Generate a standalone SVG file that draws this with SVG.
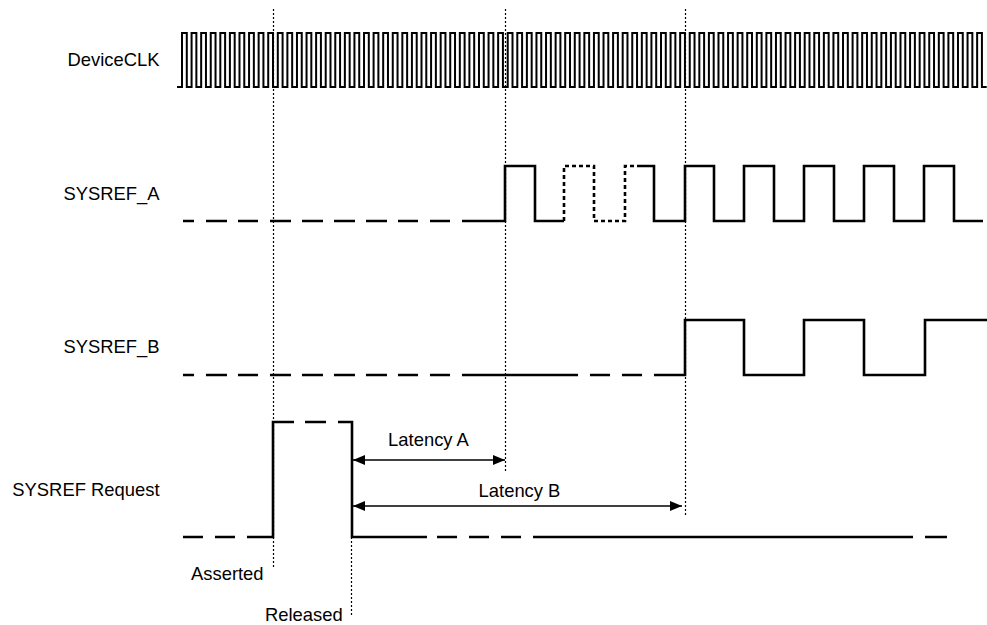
<svg xmlns="http://www.w3.org/2000/svg" width="987" height="625" viewBox="0 0 987 625">
<style>
.lbl{font-family:"Liberation Sans",Arial,sans-serif;font-size:18.4px;fill:#000}
.sig{fill:none;stroke:#000;stroke-width:2.6;stroke-linejoin:miter;stroke-linecap:butt}
.clk{fill:none;stroke:#000;stroke-width:2;stroke-linejoin:miter}
.dsh{stroke-dasharray:4 3}
.mark{fill:none;stroke:#000;stroke-width:1.2;stroke-dasharray:2 2}
.arr{fill:none;stroke:#000;stroke-width:1.4}
</style>
<defs>
<marker id="ah" viewBox="0 0 12 10" refX="12" refY="5" markerWidth="12" markerHeight="10" markerUnits="userSpaceOnUse" orient="auto-start-reverse">
<path d="M0,0 L12,5 L0,10 z" fill="#000"/>
</marker>
</defs>
<rect width="987" height="625" fill="#fff"/>

<g id="devclk">
<text class="lbl" x="159.5" y="66" text-anchor="end">DeviceCLK</text>
<path class="clk" d="M177,87 H182
V33h4.79V87h4.79V33h4.79V87h4.79V33h4.79V87h4.79V33h4.79V87h4.79V33h4.79V87h4.79V33h4.79V87h4.79V33h4.79V87h4.79V33h4.79V87h4.79V33h4.79V87h4.79V33h4.79V87h4.79V33h4.79V87h4.79V33h4.79V87h4.79
V33h4.79V87h4.79V33h4.79V87h4.79V33h4.79V87h4.79V33h4.79V87h4.79V33h4.79V87h4.79V33h4.79V87h4.79V33h4.79V87h4.79V33h4.79V87h4.79V33h4.79V87h4.79V33h4.79V87h4.79V33h4.79V87h4.79V33h4.79V87h4.79
V33h4.79V87h4.79V33h4.79V87h4.79V33h4.79V87h4.79V33h4.79V87h4.79V33h4.79V87h4.79V33h4.79V87h4.79V33h4.79V87h4.79V33h4.79V87h4.79V33h4.79V87h4.79V33h4.79V87h4.79V33h4.79V87h4.79V33h4.79V87h4.79
V33h4.79V87h4.79V33h4.79V87h4.79V33h4.79V87h4.79V33h4.79V87h4.79V33h4.79V87h4.79V33h4.79V87h4.79V33h4.79V87h4.79V33h4.79V87h4.79V33h4.79V87h4.79V33h4.79V87h4.79V33h4.79V87h4.79V33h4.79V87h4.79
V33h4.79V87h4.79V33h4.79V87h4.79V33h4.79V87h4.79V33h4.79V87h4.79V33h4.79V87h4.79V33h4.79V87h4.79V33h4.79V87h4.79V33h4.79V87h4.79V33h4.79V87h4.79V33h4.79V87h4.79V33h4.79V87h4.79V33h4.79V87h4.79
V33h4.79V87h4.79V33h4.79V87h4.79V33h4.79V87h4.79V33h4.79V87h4.79V33h4.79V87h4.79V33h4.79V87h4.79V33h4.79V87h4.79V33h4.79V87h4.79V33h4.79V87h4.79V33h4.79V87h4.79V33h4.79V87h4.79V33h4.79V87h4.79
V33h4.79V87h4.79V33h4.79V87h4.79V33h4.79V87h4.79V33h4.79V87h4.79V33h4.79V87h4.79V33h4.79V87h4.79V33h4.79V87h4.79V33h4.79V87h4.79V33h4.79V87h4.79V33h4.79V87h4.79V33h4.79V87h4.79V33h4.79V87h4.79"/>
</g>

<g id="sysref_a">
<text class="lbl" x="159.5" y="200" text-anchor="end">SYSREF_A</text>
<path class="sig" d="M183,221H194 M206,221H227 M238,221H258 M270,221H291 M302,221H323 M334,221H355 M366,221H387 M398,221H418 M430,221H450"/>
<path class="sig" d="M462,221 H505 V166 H535 V221 H564"/>
<path class="sig dsh" d="M564,221 V166 H594 V221 H625 V166 H640"/>
<path class="sig" d="M640,166 H654 V221 H685 V166 H714 V221 H744 V166 H774 V221 H804 V166 H834 V221 H864 V166 H894 V221 H924 V166 H954 V221 H983"/>
</g>

<g id="sysref_b">
<text class="lbl" x="159.5" y="353" text-anchor="end">SYSREF_B</text>
<path class="sig" d="M183,375H194 M206,375H227 M238,375H258 M270,375H291 M302,375H323 M334,375H355 M366,375H387 M398,375H418 M430,375H450 M462,375H578 M590,375H610 M622,375H642"/>
<path class="sig" d="M654,375 H685 V320 H744 V375 H804 V320 H864 V375 H925 V320 H987"/>
</g>

<g id="sysref_request">
<text class="lbl" x="159.5" y="496" text-anchor="end">SYSREF Request</text>
<path class="sig" d="M183,537H203 M215,537H235"/>
<path class="sig" d="M247,537 H273 V422 H294 M305,422H326 M338,422 H352 V537 H427 M437,537H457 M469,537H489 M501,537H521 M533,537H913 M925,537H947"/>
<text class="lbl" x="191" y="580">Asserted</text>
<text class="lbl" x="265" y="621">Released</text>
</g>

<g id="connectors">
<path class="mark" d="M273.5,9V567 M351.5,537V616 M505.5,9V471 M685.5,9V516"/>
<path class="arr" d="M353,460H505" marker-start="url(#ah)" marker-end="url(#ah)"/>
<path class="arr" d="M353,506H682" marker-start="url(#ah)" marker-end="url(#ah)"/>
<text class="lbl" x="428.5" y="446" text-anchor="middle">Latency A</text>
<text class="lbl" x="519.5" y="497" text-anchor="middle">Latency B</text>
</g>
</svg>
